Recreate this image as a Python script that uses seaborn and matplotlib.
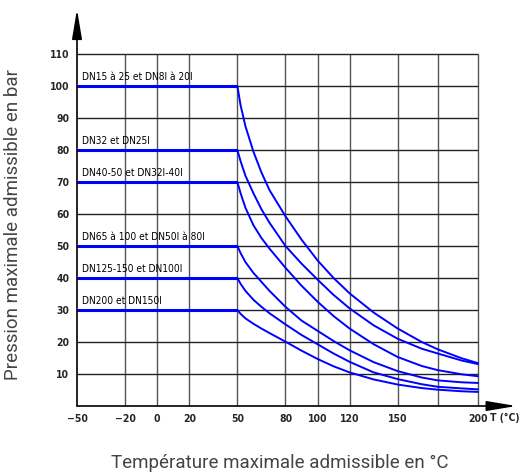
import pandas as pd
import matplotlib
matplotlib.use("Agg")
import matplotlib.pyplot as plt
import seaborn as sns

# Pressure (bar), one list per DN group
temps = [50, 52, 55, 60, 65, 70, 80, 90, 100, 110, 120, 135, 150, 165, 175, 190, 200]
p_dn15 = [100, 94, 87.5, 79.5, 73, 67.5, 59.3, 52, 45.5, 40, 35.2, 29.2, 24.2, 20.0, 17.7, 14.9, 13.4]
p_dn32 = [80, 76.5, 72, 66.5, 61.5, 57.3, 50, 44.5, 39.5, 34.7, 30.5, 25.2, 21.0, 17.9, 16.4, 14.2, 13.1]
p_dn40 = [70, 66.5, 62, 56.5, 52.5, 49.2, 43.2, 37.6, 32.6, 28.1, 24.2, 19.3, 15.3, 12.5, 11.2, 9.9, 9.3]
p_dn65 = [50, 47.8, 45, 41.6, 38.8, 36, 31, 26.7, 23.5, 20.3, 17.4, 13.7, 10.9, 8.9, 8.0, 7.4, 7.2]
p_dn125 = [40, 38.2, 36, 33.2, 31, 29, 25.5, 22.2, 19.3, 16.4, 13.8, 10.5, 8.4, 6.8, 6.0, 5.5, 5.2]
p_dn200 = [30, 28.8, 27.4, 25.7, 24.2, 22.8, 20.1, 17.3, 14.7, 12.4, 10.5, 8.3, 6.7, 5.6, 5.1, 4.6, 4.4]

series_labels = [
    "DN15 à 25 et DN8I à 20I",
    "DN32 et DN25I",
    "DN40-50 et DN32I-40I",
    "DN65 à 100 et DN50I à 80I",
    "DN125-150 et DN100I",
    "DN200 et DN150I",
]
series_values = [p_dn15, p_dn32, p_dn40, p_dn65, p_dn125, p_dn200]

t_start = -50
x_ticks = [-50, -20, 0, 20, 50, 80, 100, 120, 150, 175, 200]
x_ticklabels = ["−50", "−20", "0", "20", "50", "80", "100", "120", "150", "", "200"]
y_ticks = [10, 20, 30, 40, 50, 60, 70, 80, 90, 100, 110]

df = pd.concat([
    pd.DataFrame({"T": temps, "P": vals, "Groupe": name})
    for name, vals in zip(series_labels, series_values)
], ignore_index=True)

sns.set_style("white")
narrow = dict(family="DejaVu Sans", stretch="condensed")
label_font = ["Roboto", "DejaVu Sans"]

fig = plt.figure(figsize=(5.23, 4.73), dpi=100)
ax = fig.add_axes([77 / 523, 67 / 473, 441 / 523, 400 / 473])
ax.set_xlim(-50, 225)
ax.set_ylim(0, 125)

# Grid only inside the -50..200 / 0..110 box
ax.vlines(x_ticks[1:], 0, 110, color="#555555", lw=1.0, zorder=1)
ax.hlines(y_ticks, t_start, 200, color="#222222", lw=1.0, zorder=1)

# Curves
sns.lineplot(data=df, x="T", y="P", hue="Groupe", units="Groupe", estimator=None,
             palette={n: "#0000ff" for n in series_labels}, lw=1.4, legend=False,
             sort=False, ax=ax, zorder=3)

# Flat part and label of each group
for name, vals in zip(series_labels, series_values):
    ax.hlines(vals[0], t_start, temps[0], color="#0000ff", lw=2.2, zorder=3)
    ax.text(t_start + 3, vals[0] + 1.2, name, fontsize=7.3, ha="left", va="bottom",
            color="black", zorder=4, **narrow)

# Axes with arrows
for s in ax.spines.values():
    s.set_visible(False)
for tip, base in [((224, 0), (t_start, 0)), ((t_start, 124), (t_start, 0))]:
    ax.annotate("", xy=tip, xytext=base, annotation_clip=False,
                arrowprops=dict(arrowstyle="-|>,head_length=1.8,head_width=0.3",
                                color="black", lw=1.2, mutation_scale=10,
                                shrinkA=0, shrinkB=0))

ax.set_xticks(x_ticks)
ax.set_xticklabels(x_ticklabels)
ax.set_yticks(y_ticks)
ax.tick_params(axis="both", direction="out", length=3, width=1, color="black",
               labelsize=7.5, pad=2.5)
for lab in ax.get_xticklabels() + ax.get_yticklabels():
    lab.set_family(narrow["family"])
    lab.set_stretch(narrow["stretch"])
    lab.set_fontweight("bold")
ax.text(207.5, -3.7, "T (°C)", fontsize=7.5, fontweight="bold",
        ha="left", va="center", **narrow)

ax.set_xlabel("Température maximale admissible en °C", family=label_font,
              fontsize=13.5, color="#444444")
ax.set_ylabel("Pression maximale admissible en bar", family=label_font,
              fontsize=13.5, color="#444444")
ax.xaxis.set_label_coords((280 - 77) / 441, -0.12)
ax.yaxis.set_label_coords(-0.125, 0.4525)

fig.savefig("out.png", dpi=100)
